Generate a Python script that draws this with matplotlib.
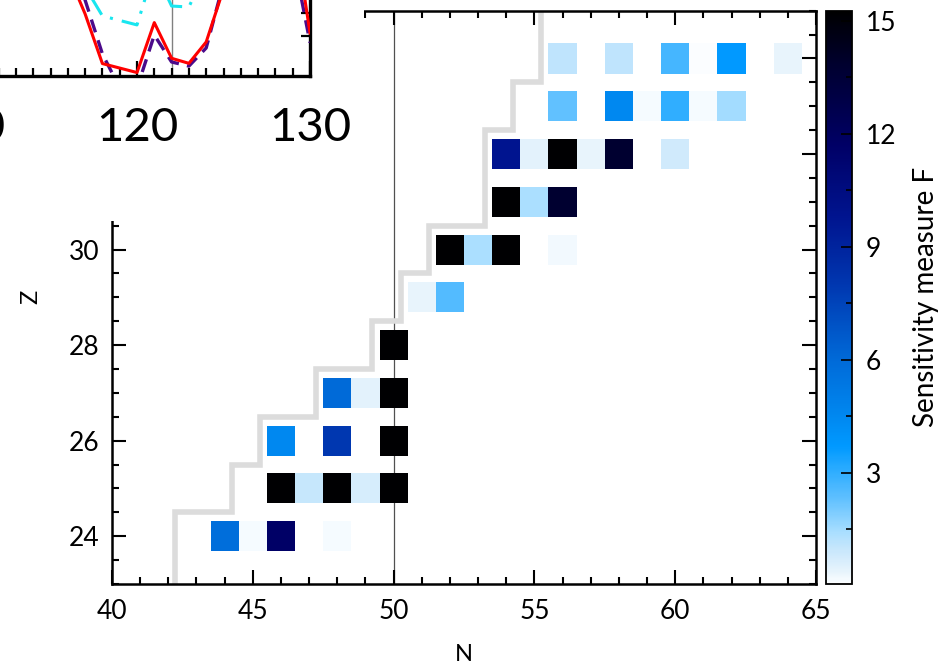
import numpy as np
import matplotlib
matplotlib.use("Agg")
import matplotlib.pyplot as plt
from matplotlib.colors import LinearSegmentedColormap, Normalize
from matplotlib.cm import ScalarMappable
from matplotlib.patches import Rectangle
from matplotlib.ticker import MultipleLocator, FixedLocator

plt.rcParams['font.family'] = ['Lato', 'DejaVu Sans']

# ---------------- data ----------------
cell_N = [44, 45, 46, 48,
          46, 47, 48, 49, 50,
          46, 48, 50,
          48, 49, 50,
          50,
          51, 52,
          52, 53, 54, 56,
          54, 55, 56,
          54, 55, 56, 57, 58, 60,
          56, 58, 59, 60, 61, 62,
          56, 58, 60, 61, 62, 64]
cell_Z = [24, 24, 24, 24,
          25, 25, 25, 25, 25,
          26, 26, 26,
          27, 27, 27,
          28,
          29, 29,
          30, 30, 30, 30,
          31, 31, 31,
          32, 32, 32, 32, 32, 32,
          33, 33, 33, 33, 33, 33,
          34, 34, 34, 34, 34, 34]
cell_F = [5.8, 0.15, 11.7, 0.15,
          15.2, 1.0, 15.2, 0.7, 15.2,
          4.5, 8.0, 15.2,
          6.0, 0.45, 15.2,
          15.2,
          0.35, 2.5,
          15.2, 1.4, 15.2, 0.2,
          15.2, 1.4, 13.8,
          9.8, 0.45, 15.2, 0.35, 13.8, 0.8,
          2.3, 4.5, 0.15, 3.0, 0.15, 1.5,
          1.1, 1.1, 2.7, 0.1, 3.7, 0.35]

drip_N = [42.25, 44.25, 45.25, 47.25, 49.25, 50.25, 51.25, 53.25, 54.25, 55.25]
drip_Z_edges = [23, 24.5, 25.5, 26.5, 27.5, 28.5, 29.5, 30.5, 32.5, 33.5, 35]

x_ticks = [40, 45, 50, 55, 60, 65]
y_ticks = [24, 26, 28, 30, 32, 34]
cb_ticks = [3, 6, 9, 12, 15]

# inset (fragment of neighbouring panel)
red_x = [116, 117, 118, 120, 121, 122, 123, 124, 125, 129, 130]
red_y = [4.74, 2.96, 0.80, 0.41, 2.58, 1.03, 0.81, 1.74, 4.04, 7.09, 2.13]
purple_x = [116, 117, 118, 119, 120, 121, 122, 123, 124, 125, 129, 130]
purple_y = [5.30, 3.56, 1.22, -0.26, -0.26, 2.04, 0.87, 0.69, 1.48, 4.30, 5.56, 1.71]
cyan_x = [117, 118, 120, 121, 122, 123, 124]
cyan_y = [4.13, 2.87, 2.48, 4.91, 3.30, 3.26, 4.87]
inset_ticks = [110, 120, 130]

# ---------------- colormap ----------------
vmin, vmax = 0.05, 15.27
anchor_v = [0.05, 0.1, 0.35, 0.7, 1.0, 1.4, 2.3, 3.0, 3.7, 4.5, 6.0, 8.0, 9.8, 11.7, 13.8, 15.27]
anchor_c = ['#ffffff', '#f8fcff', '#e8f4fc', '#d5ecfc', '#c5e6fc', '#aadfff', '#60c0ff', '#30aeff',
            '#0099ff', '#0088f0', '#006ad8', '#0037b0', '#00148f', '#000066', '#000030', '#000000']
cmap = LinearSegmentedColormap.from_list(
    'sens', [((v - vmin) / (vmax - vmin), c) for v, c in zip(anchor_v, anchor_c)], N=512)
norm = Normalize(vmin=vmin, vmax=vmax)

W, H = 942, 665
fig = plt.figure(figsize=(W / 100, H / 100), dpi=100)


def fbox(x0, y0, x1, y1):
    return [x0 / W, 1 - y1 / H, (x1 - x0) / W, (y1 - y0) / H]


# ---------------- main axes ----------------
ax = fig.add_axes(fbox(112, 10.7, 816, 584))
ax.set_xlim(40, 65)
ax.set_ylim(23, 35)

cz = np.array(cell_Z, dtype=float)
ax.bar(cell_N, 0.63, width=1.0, bottom=cz - 0.315, color=cmap(norm(np.array(cell_F))),
       linewidth=0, zorder=2)
ax.stairs(drip_N, drip_Z_edges, orientation='horizontal', baseline=None,
          color='#dcdcdc', linewidth=4, zorder=1.5)
ax.axvline(50, color='#505050', linewidth=0.9, zorder=1)

ax.set_xticks(x_ticks)
ax.set_yticks(y_ticks)
ax.xaxis.set_minor_locator(MultipleLocator(1))
ax.yaxis.set_minor_locator(MultipleLocator(0.5))
ax.tick_params(which='both', direction='in', top=True, right=True, width=1.5, colors='black')
ax.tick_params(which='major', length=10)
ax.tick_params(which='minor', length=5)
ax.tick_params(axis='x', labelsize=19, pad=11)
ax.tick_params(axis='y', labelsize=19, pad=9)
for s in ax.spines.values():
    s.set_linewidth(1.8)
ax.set_xlabel('N', fontsize=17, labelpad=14)
ax.set_ylabel('Z', fontsize=17, labelpad=20)

# ---------------- colorbar ----------------
cax = fig.add_axes(fbox(826, 10.7, 852, 584))
sm = ScalarMappable(norm=norm, cmap=cmap)
cb = fig.colorbar(sm, cax=cax)
cb.set_ticks(cb_ticks)
cb.ax.yaxis.set_minor_locator(FixedLocator([1.5, 4.5, 7.5, 10.5, 13.5]))
cb.ax.tick_params(which='both', direction='in', width=1.2, labelsize=19, pad=10)
cb.ax.tick_params(which='major', length=8)
cb.ax.tick_params(which='minor', length=4)
cb.outline.set_linewidth(1.3)
cb.set_label('Sensitivity measure F', fontsize=20, labelpad=12)

# ---------------- covering fragment of neighbouring panel ----------------
fig.patches.append(Rectangle((0, 1 - 221 / H), 364 / W, 221 / H, transform=fig.transFigure,
                             facecolor='white', edgecolor='none', zorder=5))

axin = fig.add_axes(fbox(-70.6, -100, 310, 76), zorder=6)
axin.patch.set_visible(False)
axin.set_xlim(108, 130)
axin.set_ylim(0.26, 7.91)
axin.axvline(122, color='#808080', linewidth=1.0, zorder=1)
axin.plot(cyan_x, cyan_y, color='#19e6ef', linewidth=2.2, linestyle=(0, (6, 3, 1, 3)), zorder=2)
axin.plot(purple_x, purple_y, color='#4b0a8a', linewidth=2.4, linestyle=(0, (4, 2.5)), zorder=3)
axin.plot(red_x, red_y, color='#ff0000', linewidth=2.2, zorder=4)
axin.set_xticks(inset_ticks)
axin.xaxis.set_minor_locator(MultipleLocator(1))
axin.set_yticks([2, 3])
axin.tick_params(axis='x', which='both', direction='in', width=1.6, labelsize=34, pad=22)
axin.tick_params(axis='x', which='major', length=11)
axin.tick_params(axis='x', which='minor', length=5.5)
axin.tick_params(axis='y', which='both', direction='in', left=False, right=True,
                 labelleft=False, labelright=False, length=6.5, width=1.6)
axin.spines['top'].set_visible(False)
axin.spines['left'].set_visible(False)
axin.spines['bottom'].set_linewidth(2.4)
axin.spines['right'].set_linewidth(2.4)

fig.savefig('out.png', dpi=100)
